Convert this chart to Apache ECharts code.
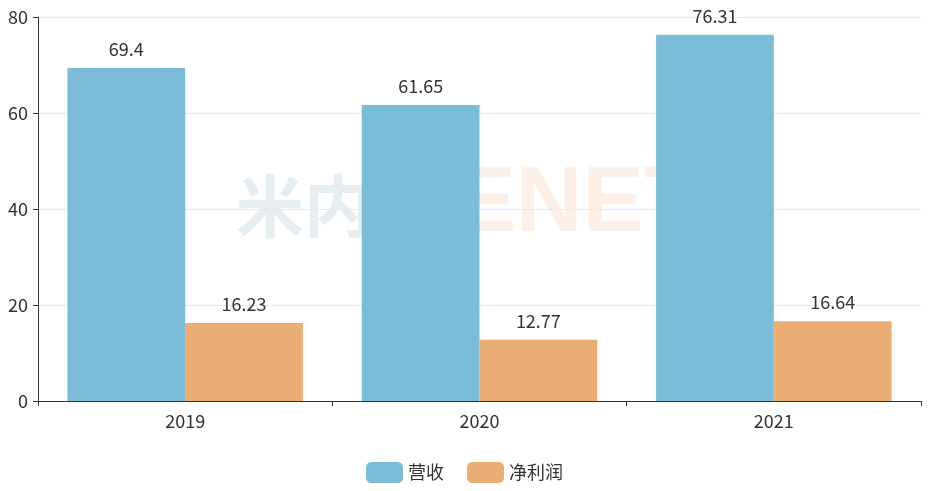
<!DOCTYPE html>
<html><head><meta charset="utf-8">
<script src="https://cdn.jsdelivr.net/npm/echarts@6/dist/echarts.min.js"></script>
<style>html,body{margin:0;padding:0;background:#fff}#c{width:929px;height:491px}</style>
</head><body><div id="c"></div>
<script>
var categories = ['2019', '2020', '2021'];
var revenue = [69.4, 61.65, 76.31];
var profit = [16.23, 12.77, 16.64];
var seriesNames = ['营收', '净利润'];
var font = '"Microsoft YaHei","Noto Sans CJK SC","Noto Sans",sans-serif';
var chart = echarts.init(document.getElementById('c'));
chart.setOption({
  animation: false,
  color: ['#7bbcd8', '#eaad74'],
  textStyle: {fontFamily: font},
  grid: {left: 38, right: 8, top: 17, bottom: 90, containLabel: false},
  graphic: [{
    type: 'text', left: 236, top: 160, z: -10, silent: true,
    style: {
      text: '{a|米内}{b|MENET}',
      rich: {
        a: {fontSize: 68, fontWeight: 'bold', fill: '#e6eef1', fontFamily: font, padding: [0, 6, 0, 0]},
        b: {fontSize: 92, fontWeight: 'bold', fill: '#fdf0e6', fontFamily: 'Arial, "Liberation Sans", sans-serif'}
      }
    }
  }],
  legend: {
    top: 457, left: 'center', itemWidth: 37, itemHeight: 21, itemGap: 23,
    icon: 'roundRect',
    textStyle: {fontSize: 18, color: '#333', fontFamily: font},
    data: seriesNames
  },
  xAxis: {
    type: 'category', data: categories,
    axisLine: {lineStyle: {color: '#333'}},
    axisTick: {show: true, lineStyle: {color: '#333'}},
    axisLabel: {fontSize: 18, color: '#333', margin: 11, fontFamily: font}
  },
  yAxis: {
    type: 'value', min: 0, max: 80, interval: 20,
    axisLine: {show: true, lineStyle: {color: '#333'}},
    axisTick: {show: true, lineStyle: {color: '#333'}},
    axisLabel: {fontSize: 18, color: '#333', margin: 10, fontFamily: font},
    splitLine: {lineStyle: {color: '#eaeaea'}}
  },
  series: [
    {name: seriesNames[0], type: 'bar', data: revenue, barGap: '0%', barCategoryGap: '20%',
     label: {show: true, position: 'top', fontSize: 18, color: '#333', distance: 10, fontFamily: font}},
    {name: seriesNames[1], type: 'bar', data: profit, barGap: '0%', barCategoryGap: '20%',
     label: {show: true, position: 'top', fontSize: 18, color: '#333', distance: 10, fontFamily: font}}
  ]
});
</script></body></html>
